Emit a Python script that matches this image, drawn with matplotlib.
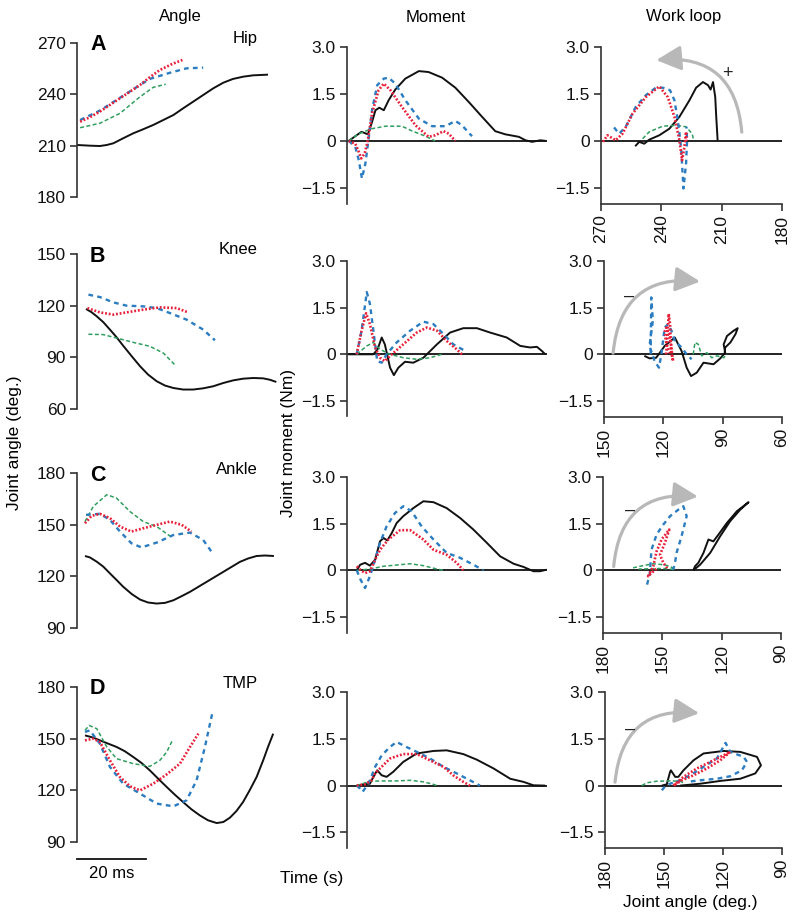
import matplotlib
matplotlib.use("Agg")
import matplotlib.pyplot as plt
from matplotlib.transforms import blended_transform_factory

plt.rcParams['font.family'] = ['Liberation Sans', 'DejaVu Sans']

# ---------------- DATA (time in ms, angle in deg, moment in Nm) ----------------
# Row A - Hip
hip_angle_black = [(0,210.4),(3.7,210.0),(6.6,209.8),(8.6,210.4),(10.5,211.4),(13.3,214.3),(16.2,217.2),(19.1,219.6),(22,222.1),(24.9,225),(27.8,227.9),(30.6,231.8),(33.5,235.7),(36.4,239.6),(39.3,243.5),(42.2,246.8),(45,249),(47.9,250.3),(50.8,251.1),(55.1,251.5)]
hip_angle_blue = [(0.9,225),(6.6,230.5),(12.4,238),(18.2,245.5),(21,249),(26.8,252.6),(31.6,255.2),(36.4,255.6)]
hip_angle_red = [(0.9,224),(3.7,226.6),(6.6,229.9),(9.5,233.8),(12.4,237.7),(15.3,241.6),(18.2,245.5),(21,250),(23.9,254.2),(27.2,257.5),(30.4,260.1)]
hip_angle_green = [(0.9,220.5),(6.6,223.1),(12.4,228.9),(18.2,238.6),(22,244.1),(25.6,245.9)]

hip_moment_black = [(0.5,0),(3.4,0.23),(4.2,0.29),(6.0,0.21),(7.2,0.6),(8.2,0.98),(9.3,1.06),(10.6,0.98),(12.0,1.30),(13.9,1.64),(16.8,1.99),(20.7,2.23),(23.5,2.20),(27.4,2.02),(31.2,1.70),(35.1,1.24),(38.9,0.77),(42.7,0.31),(45.6,0.21),(49.5,0.13),(51.4,0.02),(53.3,-0.03),(55.7,0.02),(57.2,0)]
hip_moment_blue = [(0.5,0),(2.4,-0.19),(3.4,-0.62),(4.3,-1.2),(5.3,-0.72),(6.3,0.13),(7.2,0.98),(8.7,1.78),(10.6,1.99),(12.0,2.02),(13.9,1.83),(16.8,1.30),(20.7,0.71),(24.5,0.47),(28.4,0.47),(31.2,0.64),(33.1,0.50),(36.0,0.15)]
hip_moment_red = [(0.5,0),(2.4,-0.09),(3.4,-0.35),(4.1,-0.56),(5.1,-0.40),(6.0,0.02),(7.2,0.87),(9.1,1.62),(10.6,1.83),(12.5,1.62),(15.8,1.09),(19.7,0.50),(23.5,0.13),(25.4,0.18),(27.8,0.31),(29.3,0.23),(31.2,0)]
hip_moment_green = [(0.5,0),(3.4,0.23),(7.2,0.39),(11.1,0.47),(15.8,0.47),(18.7,0.32),(22.6,0.15),(25.4,0)]

hip_loop_black = [(253,-0.17),(251,-0.03),(248.5,-0.09),(246,0.04),(241,0.18),(236,0.39),(231,0.77),(226,1.30),(222.7,1.70),(219.3,1.88),(216.8,1.78),(215.5,1.64),(214.3,1.88),(213.2,1.40),(212.7,0.77),(212.2,0.23),(212,0)]
hip_loop_blue = [(263.5,0.43),(261,0.23),(257.7,0.45),(252.7,1.09),(247.7,1.46),(242.7,1.70),(239.3,1.70),(235.7,1.62),(233.5,1.30),(231.8,0.66),(230.2,-0.19),(229,-1.52),(227.7,-0.72),(227.2,0.02),(227.5,0.45)]
hip_loop_red = [(269,-0.03),(266.8,0.18),(262.7,0.02),(259.3,0.23),(254.3,0.87),(247.7,1.40),(241,1.74),(236.8,1.40),(233.5,0.77),(231,0.02),(229.7,-0.62),(228.5,-0.19),(227.7,0.29),(227.5,0)]
hip_loop_green = [(249.3,0.07),(246,0.29),(239.3,0.47),(232.7,0.50),(227.7,0.45),(224.7,0.23),(223.8,0)]

# Row B - Knee
knee_angle_black = [(2.6,118.1),(4.2,116.2),(5.7,113.8),(7.6,110.4),(9.5,106.1),(11.4,101.7),(13.3,96.8),(15.8,90.6),(18.2,84.8),(20.5,80),(23,76.1),(25.4,73.6),(27.8,72.2),(30.6,71.3),(33.5,71.3),(36.4,72),(39.3,73.2),(42.2,75.1),(45,76.6),(47.9,77.6),(50.8,78),(53.7,77.8),(55.6,77),(57.5,75.7)]
knee_angle_blue = [(3.3,126.4),(6.6,125),(10.5,121.9),(14.3,120),(19.1,119.6),(23,118.6),(26.8,115.7),(31.6,111.9),(36.4,106.1),(39.8,99.9)]
knee_angle_red = [(3,118.6),(6.6,116.1),(10.5,114.8),(14.3,116.1),(19.1,117.7),(23.9,119),(28.7,118.6),(32.1,116.1)]
knee_angle_green = [(3.3,103.4),(7.6,103.2),(11.4,101.2),(16.2,98.7),(21,96.4),(24.9,92.5),(28.2,85.7)]

knee_moment_black = [(0.4,0),(7.6,0),(8.8,0.16),(10,0.54),(10.9,0.32),(12.4,-0.43),(13.5,-0.67),(14.8,-0.43),(16.7,-0.24),(19.1,-0.27),(22,-0.11),(25.9,0.32),(29.7,0.70),(33.5,0.84),(37.4,0.84),(41.2,0.70),(46,0.54),(49.9,0.27),(52.7,0.22),(54.7,0.24),(56.1,0.11),(57.1,0)]
knee_moment_blue = [(2.8,0),(4.2,0.76),(5.7,2.0),(6.6,1.62),(7.6,0.76),(8.7,-0.22),(10,-0.27),(11.4,0),(14.3,0.38),(18.2,0.76),(22,1.05),(24.9,0.97),(27.8,0.65),(30.6,0.32),(34,0.11)]
knee_moment_red = [(2.8,0),(4.2,0.76),(5.5,1.32),(6.6,0.97),(8.1,0.22),(9.5,-0.11),(10.9,-0.22),(12.4,-0.05),(16.2,0.32),(20.1,0.70),(23,0.86),(25.9,0.76),(28.7,0.43),(31.6,0.16),(33.1,0)]
knee_moment_green = [(2.8,0),(5.7,0.27),(7.6,0.38),(9.5,0.16),(12.4,0),(16.2,-0.11),(20.1,-0.16),(23.9,-0.11),(27.3,0)]

knee_loop_black = [(129.6,-0.05),(127,-0.13),(123.6,-0.11),(119.3,0.27),(114.2,0.54),(110.8,0.11),(108.2,-0.43),(106,-0.70),(103.1,-0.59),(99.7,-0.27),(94.6,-0.32),(91.2,-0.13),(88.7,0.05),(89.5,0.32),(87.8,0.59),(84.4,0.76),(82.4,0.84),(83.5,0.65),(86.1,0.38),(88.7,0.22),(89,0.05)]
knee_loop_blue = [(126.4,0),(126.1,1.83),(125.3,1.08),(127,0.27),(124.4,-0.22),(122.2,-0.43),(121,0),(119.3,0.86),(117.6,0.97),(115.9,0.76),(114.2,0.43),(110.8,0.22),(108.2,0),(105.7,-0.16)]
knee_loop_red = [(118.6,0),(117.8,0.76),(117.3,1.3),(116.6,0.97),(116.1,0.22),(115.6,-0.11),(115.0,-0.22),(115.5,-0.05),(116.1,0.32),(117.3,0.70),(118.5,0.86),(119.2,0.76),(118.8,0.43),(117.4,0.16),(116.3,0)]
knee_loop_green = [(104.9,0),(104,0.38),(102.3,0.32),(100.6,-0.05),(98,0.05),(95.5,-0.11),(92.9,-0.05),(89.5,-0.11),(87.8,0)]

# Row C - Ankle
ankle_angle_black = [(2.3,131.8),(3.7,131.0),(5.7,128.5),(7.6,125.6),(9.5,121.7),(11.4,117.9),(13.3,114),(15.8,109.7),(18.2,106.5),(20.5,104.8),(23,104.2),(25.4,104.6),(27.8,106.1),(30.2,108.5),(32.6,111),(35,113.9),(37.4,116.8),(39.8,119.7),(42.2,122.6),(44.6,125.5),(47,128.4),(49.4,130.4),(51.8,131.8),(54.2,132.1),(56.8,131.8)]
ankle_angle_blue = [(2.6,155.7),(6.6,156.3),(9.5,152.8),(12.4,146),(15.7,139.2),(18.6,136.8),(23,139.6),(27.8,144),(32.6,145.4),(36.4,141.1),(38.8,134.3)]
ankle_angle_red = [(2.3,150.8),(4.2,155.1),(6.6,156.3),(9.5,153.8),(12.4,148.9),(15.7,146),(19.1,147.9),(23,149.9),(26.8,151.8),(30.2,149.9),(33,146)]
ankle_angle_green = [(2.3,151.8),(4.7,160.6),(8.6,167.4),(11.4,165.4),(15.3,157.6),(19.1,151.8),(23,148.9),(27.3,142.7)]

ankle_moment_black = [(2.8,0),(3.8,0.18),(5.2,0.24),(6.6,0.15),(8.1,0.34),(9.5,0.93),(10.5,1.04),(11.6,0.96),(12.9,1.20),(14.3,1.52),(16.2,1.74),(19.1,2.0),(22,2.22),(24.9,2.19),(28.7,2.0),(32.6,1.68),(36.4,1.31),(40.3,0.88),(44.1,0.45),(48,0.21),(50.8,0.11),(53.7,-0.03),(55.6,-0.03),(57.5,0.02)]
ankle_moment_blue = [(2.8,0),(3.9,-0.30),(5.2,-0.57),(6.6,-0.19),(8.1,0.34),(9.5,0.88),(11.4,1.41),(13.8,1.84),(16.2,2.06),(18.6,1.90),(21.5,1.41),(24.9,0.99),(28.7,0.56),(32.6,0.40),(36.4,0.18),(39.3,0)]
ankle_moment_red = [(2.8,0.13),(3.8,0.02),(5.2,-0.09),(6.6,-0.03),(8.1,0.34),(9.5,0.66),(11.9,0.99),(15.3,1.29),(18.2,1.29),(22,0.99),(24.9,0.66),(28.7,0.50),(31.6,0.24),(33.5,0)]
ankle_moment_green = [(2.8,0),(6.6,0.04),(10.5,0.13),(15.3,0.18),(18.2,0.21),(22,0.15),(25.9,0.04),(27.8,0)]

ankle_loop_black = [(134.3,0),(133.5,0.13),(131.8,0.24),(129.2,0.56),(126.7,0.99),(124.2,0.93),(121.6,1.15),(117.4,1.52),(112.3,1.90),(106.4,2.19),(110.6,1.95),(115.7,1.58),(120.8,1.09),(125.8,0.56),(130.9,0.18),(134.3,0)]
ankle_loop_blue = [(157.7,-0.46),(156.3,-0.09),(155.5,0.66),(152.9,1.15),(149.5,1.47),(146.1,1.74),(141.9,1.95),(139.4,2.06),(137.7,1.74),(140.3,1.09),(142.8,0.56),(143.6,0.24),(144.5,0.02)]
ankle_loop_red = [(153,0.05),(157.2,-0.19),(154.6,0.13),(152.9,0.61),(150.4,0.99),(146.5,1.31),(148.7,0.88),(151.2,0.50),(149.5,0.24),(147,0.02)]
ankle_loop_green = [(164.8,0.08),(159.7,0.15),(154.6,0.21),(149.5,0.18),(146.1,0.13),(143.6,0.02),(149.5,0.06),(156,0.05),(162,0.04)]

# Row D - TMP
tmp_angle_black = [(2.3,151.9),(4.7,150.6),(6.6,149),(9.0,147.1),(11.4,145.2),(13.8,142.7),(16.2,139.4),(18.6,135.9),(21,131.6),(23.4,126.8),(25.9,121.9),(28.2,117.5),(30.6,113.2),(33,109),(35.4,105.5),(37.8,102.6),(40.3,101),(42.2,101.6),(44.1,104.1),(46,108),(47.9,113.2),(49.8,120),(51.8,127.7),(53.7,137.4),(55.1,145.2),(56.6,152.9)]
tmp_angle_blue = [(2.3,153.9),(3.7,154.8),(6.6,147.1),(9.5,133.6),(13.3,123.9),(18.2,118.1),(23,112.3),(27.8,110.7),(31.6,114.2),(34.5,125.8),(36.9,145.2),(39.1,165.5)]
tmp_angle_red = [(2.3,149),(4.7,150),(6.6,148.1),(9.5,137.4),(12.4,127.7),(15.3,122.3),(18.2,120),(22,123.9),(25.9,129.3),(29.7,135.5),(32.6,145.2),(35,152.9)]
tmp_angle_green = [(2.3,154.8),(3.5,157.7),(5.7,155.8),(8.6,145.2),(11.4,138.4),(16.2,135.5),(21,133.9),(23.9,137.4),(25.9,142.3),(27.6,149.4)]

tmp_moment_black = [(2.8,0),(4.7,0.04),(6.6,0.06),(7.6,0.28),(8.7,0.49),(10,0.33),(11.4,0.28),(13.3,0.44),(16.2,0.76),(20.1,1.03),(24.9,1.11),(28.7,1.13),(33.5,1.01),(37.4,0.83),(42.2,0.55),(47,0.22),(50.8,0.12),(53.7,0.01),(57.1,0)]
tmp_moment_blue = [(2.8,0),(3.8,-0.10),(4.5,-0.20),(5.5,-0.04),(6.6,0.17),(8.1,0.60),(10,0.97),(12.4,1.24),(14.3,1.40),(16.7,1.26),(20.1,1.08),(23.9,0.87),(27.8,0.60),(31.6,0.39),(35.4,0.17),(38.3,0)]
tmp_moment_red = [(2.8,0),(5.2,0.04),(7.1,0.17),(8.1,0.39),(9.5,0.55),(12.4,0.87),(16.2,1.01),(20.1,1.01),(23.9,0.81),(27.8,0.60),(30.6,0.33),(33.5,0.12),(35.4,0)]
tmp_moment_green = [(2.8,0),(6.6,0.14),(10.5,0.15),(14.3,0.15),(18.2,0.17),(22,0.12),(24.9,0.04),(25.9,0)]

tmp_loop_black = [(151.1,0),(148.6,0.04),(146.9,0.44),(146.5,0.49),(144.3,0.28),(142.7,0.28),(140.1,0.49),(135,0.81),(129.9,1.03),(119.7,1.11),(111.2,1.08),(102.7,0.92),(100.7,0.65),(103.6,0.39),(111.2,0.22),(121.4,0.15),(131.6,0.06),(141.8,0)]
tmp_loop_blue = [(151.1,-0.15),(149.4,-0.02),(146.9,0.06),(141.8,0.17),(136.7,0.33),(129.9,0.60),(123.1,0.87),(118.7,1.37),(116.3,1.08),(109.5,0.92),(107.8,0.76),(110.4,0.49),(116.3,0.30),(123.1,0.22),(131.6,0.17),(138.4,0.12)]
tmp_loop_red = [(145.2,0),(140.1,0.28),(133.3,0.55),(126.5,0.76),(119.7,0.97),(116.3,1.08),(121.4,0.81),(128.2,0.55),(135,0.33),(140.9,0.17),(145.2,0)]
tmp_loop_green = [(161.3,0),(158.8,0.09),(153.7,0.14),(146.9,0.15),(141.8,0.14),(139.2,0.06)]

joint_names = ["Hip", "Knee", "Ankle", "TMP"]
panel_letters = ["A", "B", "C", "D"]
angle_ticks = [[180, 210, 240, 270], [60, 90, 120, 150], [90, 120, 150, 180], [90, 120, 150, 180]]
loop_ticks = [[270, 240, 210, 180], [150, 120, 90, 60], [180, 150, 120, 90], [180, 150, 120, 90]]
moment_ticks = [-1.5, 0, 1.5, 3.0]
moment_tick_labels = ["\u22121.5", "0", "1.5", "3.0"]
column_titles = ["Angle", "Moment", "Work loop"]
loop_direction = ["+", "\u2013", "\u2013", "\u2013"]

angle_sets = [
    (hip_angle_black, hip_angle_green, hip_angle_blue, hip_angle_red),
    (knee_angle_black, knee_angle_green, knee_angle_blue, knee_angle_red),
    (ankle_angle_black, ankle_angle_green, ankle_angle_blue, ankle_angle_red),
    (tmp_angle_black, tmp_angle_green, tmp_angle_blue, tmp_angle_red),
]
moment_sets = [
    (hip_moment_black, hip_moment_green, hip_moment_blue, hip_moment_red),
    (knee_moment_black, knee_moment_green, knee_moment_blue, knee_moment_red),
    (ankle_moment_black, ankle_moment_green, ankle_moment_blue, ankle_moment_red),
    (tmp_moment_black, tmp_moment_green, tmp_moment_blue, tmp_moment_red),
]
loop_sets = [
    (hip_loop_black, hip_loop_green, hip_loop_blue, hip_loop_red),
    (knee_loop_black, knee_loop_green, knee_loop_blue, knee_loop_red),
    (ankle_loop_black, ankle_loop_green, ankle_loop_blue, ankle_loop_red),
    (tmp_loop_black, tmp_loop_green, tmp_loop_blue, tmp_loop_red),
]

# ---------------- STYLE ----------------
styles = [
    dict(color="#111111", lw=1.4, ls="-"),
    dict(color="#2f9e5e", lw=1.1, ls=(0, (2.6, 1.6))),
    dict(color="#2b7cc0", lw=1.7, ls=(0, (2.0, 1.8))),
    dict(color="#e8203a", lw=1.9, ls=(0, (0.7, 0.7))),
]
SPINE = "#333333"
W, H = 800, 919
fig = plt.figure(figsize=(W / 100, H / 100), dpi=100)


def rect(x0, y0, x1, y1):
    return [x0 / W, 1 - y1 / H, (x1 - x0) / W, (y1 - y0) / H]


def fx(x):
    return x / W


def fy(y):
    return 1 - y / H


left_rows = [(43, 197), (254, 409), (473, 628), (687, 842)]
mid_rows = [(47, 203.5), (261, 416.5), (477, 632.5), (692, 848)]
right_x = [(601, 782), (604, 782), (603, 781), (605, 782)]


def style_axis(ax, bottom=False):
    for s in ["top", "right"]:
        ax.spines[s].set_visible(False)
    ax.spines["bottom"].set_visible(bottom)
    for s in ["left", "bottom"]:
        ax.spines[s].set_color(SPINE)
        ax.spines[s].set_linewidth(1.2)
    ax.tick_params(direction="out", length=5, width=1.2, color=SPINE,
                   labelsize=12.5, pad=3, labelcolor="#111111")
    if not bottom:
        ax.set_xticks([])
    ax.patch.set_alpha(0)


def draw(ax, series_list):
    for series, st in zip(series_list, styles):
        xs = [p[0] for p in series]
        ys = [p[1] for p in series]
        ax.plot(xs, ys, clip_on=False, solid_capstyle="butt",
                solid_joinstyle="round", **st)


arrow_pts = [
    ((200, 0.28), (242.5, 2.58), 0.5),
    ((145.4, 0.04), (101.4, 2.34), -0.5),
    ((174.6, 0.12), (132.0, 2.37), -0.5),
    ((174.9, 0.11), (132.1, 2.32), -0.5),
]
sign_pos = [(207, 2.16), (137.2, 1.85), (166.4, 1.92), (167.3, 1.81)]

for i in range(4):
    # Angle column
    top, bot = left_rows[i]
    ax = fig.add_axes(rect(77, top, 285, bot))
    style_axis(ax)
    ax.set_xlim(0, 60)
    lo, hi = angle_ticks[i][0], angle_ticks[i][-1]
    ax.set_ylim(lo, hi)
    ax.set_yticks(angle_ticks[i])
    draw(ax, angle_sets[i])
    ax.text(fx(90), fy(top + 2), panel_letters[i], transform=fig.transFigure,
            fontsize=15.5, fontweight="bold", ha="left", va="center")
    ax.text(fx(258), fy(top - 4), joint_names[i], transform=fig.transFigure,
            fontsize=12, ha="right", va="center")
    if i == 3:
        tr = blended_transform_factory(ax.transData, ax.transAxes)
        ax.plot([0, 20], [-0.11, -0.11], transform=tr, color="#111111",
                lw=1.3, clip_on=False)
        ax.text(10, -0.205, "20 ms", transform=tr, ha="center", va="center",
                fontsize=12)

    # Moment column
    top, bot = mid_rows[i]
    ax = fig.add_axes(rect(347, top, 547, bot))
    style_axis(ax)
    ax.set_xlim(0, 57.6)
    ax.set_ylim(-2.0, 3.0)
    ax.set_yticks(moment_ticks)
    ax.set_yticklabels(moment_tick_labels)
    ax.axhline(0, color="#111111", lw=1.3)
    draw(ax, moment_sets[i])

    # Work loop column
    x0, x1 = right_x[i]
    ax = fig.add_axes(rect(x0, top, x1, bot))
    style_axis(ax, bottom=True)
    ax.set_xlim(loop_ticks[i][0], loop_ticks[i][-1])
    ax.set_xticks(loop_ticks[i])
    ax.set_xticklabels([str(v) for v in loop_ticks[i]], rotation=90)
    ax.set_ylim(-2.0, 3.0)
    ax.set_yticks(moment_ticks)
    ax.set_yticklabels(moment_tick_labels)
    ax.axhline(0, color="#111111", lw=1.3)
    draw(ax, loop_sets[i])
    (sx, sy), (ex, ey), rad = arrow_pts[i]
    ax.annotate("", xy=(ex, ey), xytext=(sx, sy),
                arrowprops=dict(arrowstyle="-|>,head_length=1.5,head_width=0.75",
                                connectionstyle=f"arc3,rad={rad}",
                                color="#b8b8b8", lw=2.3, shrinkA=0, shrinkB=0))
    ax.text(sign_pos[i][0], sign_pos[i][1], loop_direction[i], fontsize=13,
            ha="center", va="center", color="#222222")

# Column titles and axis labels
fig.text(fx(180), fy(17), column_titles[0], ha="center", va="center", fontsize=12)
fig.text(fx(436), fy(17), column_titles[1], ha="center", va="center", fontsize=12)
fig.text(fx(684), fy(17), column_titles[2], ha="center", va="center", fontsize=12)
fig.text(fx(15), fy(443), "Joint angle (deg.)", rotation=90, ha="center",
         va="center", fontsize=12.5)
fig.text(fx(289), fy(443), "Joint moment (Nm)", rotation=90, ha="center",
         va="center", fontsize=12.5)
fig.text(fx(312), fy(878), "Time (s)", ha="center", va="center", fontsize=12.5)
fig.text(fx(690), fy(902), "Joint angle (deg.)", ha="center", va="center",
         fontsize=12.5)

fig.savefig("out.png", dpi=100)
